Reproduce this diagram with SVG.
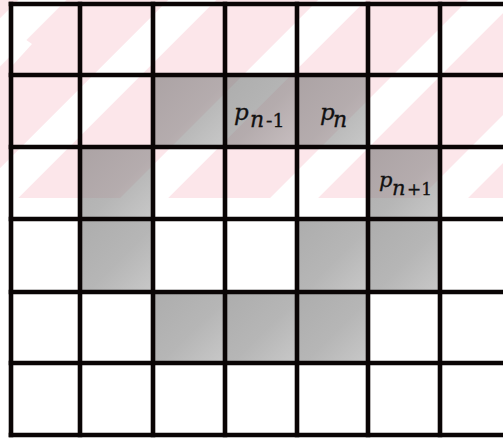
<svg xmlns="http://www.w3.org/2000/svg" width="503" height="439" viewBox="0 0 503 439">
<style>
.grid line{stroke:#0a0505;stroke-width:4.6;stroke-linecap:square}
.cell{fill:url(#shade);opacity:0.6}
.lbl{font-family:"DejaVu Serif","Liberation Serif",serif;fill:#111;stroke:#111;stroke-width:0.3}
.it{font-style:italic}
</style>
<defs>
<linearGradient id="shade" x1="0" y1="0" x2="1" y2="1">
<stop offset="0" stop-color="#767676"/>
<stop offset="0.55" stop-color="#858585"/>
<stop offset="1" stop-color="#a4a4a4"/>
</linearGradient>
<pattern id="stripes" patternUnits="userSpaceOnUse" width="106" height="106" patternTransform="rotate(45)">
<rect x="13" y="0" width="34" height="106" fill="#ffffff"/>
</pattern>
</defs>
<rect width="503" height="439" fill="#ffffff"/>
<g id="watermark">
<rect x="0" y="0" width="503" height="198" fill="#fce6ea"/>
<rect x="0" y="0" width="503" height="198" fill="url(#stripes)"/>
<polygon points="12,30 32,44 12,66" fill="#ffffff"/>
</g>
<g id="cells">
<g id="cell-r1c2"><rect class="cell" x="153" y="75" width="72" height="72"/></g>
<g id="cell-pn-1"><rect class="cell" x="225" y="75" width="72" height="72"/>
<text class="lbl" y="120"><tspan class="it" x="234" font-size="23">p</tspan><tspan class="it" x="250" y="126.5" font-size="22">n</tspan><tspan x="266" y="126.5" font-size="19">-1</tspan></text></g>
<g id="cell-pn"><rect class="cell" x="297" y="75" width="71" height="72"/>
<text class="lbl" y="120"><tspan class="it" x="320" font-size="23">p</tspan><tspan class="it" x="333" y="126.5" font-size="22">n</tspan></text></g>
<g id="cell-r2c1"><rect class="cell" x="80" y="147" width="73" height="72"/></g>
<g id="cell-pn+1"><rect class="cell" x="368" y="147" width="72" height="72"/>
<text class="lbl" y="187"><tspan class="it" x="379" font-size="21">p</tspan><tspan class="it" x="392" y="194.5" font-size="21">n</tspan><tspan x="407" y="194.5" font-size="17">+1</tspan></text></g>
<g id="cell-r3c1"><rect class="cell" x="80" y="219" width="73" height="73"/></g>
<g id="cell-r3c4"><rect class="cell" x="297" y="219" width="71" height="73"/></g>
<g id="cell-r3c5"><rect class="cell" x="368" y="219" width="72" height="73"/></g>
<g id="cell-r4c2"><rect class="cell" x="153" y="292" width="72" height="71"/></g>
<g id="cell-r4c3"><rect class="cell" x="225" y="292" width="72" height="71"/></g>
<g id="cell-r4c4"><rect class="cell" x="297" y="292" width="71" height="71"/></g>
</g>
<g id="grid" class="grid">
<line x1="11" y1="4" x2="11" y2="435"/>
<line x1="80" y1="4" x2="80" y2="435"/>
<line x1="153" y1="4" x2="153" y2="435"/>
<line x1="225" y1="4" x2="225" y2="435"/>
<line x1="297" y1="4" x2="297" y2="435"/>
<line x1="368" y1="4" x2="368" y2="435"/>
<line x1="440" y1="4" x2="440" y2="435"/>
<line x1="11" y1="4" x2="503" y2="4"/>
<line x1="11" y1="75" x2="503" y2="75"/>
<line x1="11" y1="147" x2="503" y2="147"/>
<line x1="11" y1="219" x2="503" y2="219"/>
<line x1="11" y1="292" x2="503" y2="292"/>
<line x1="11" y1="363" x2="503" y2="363"/>
<line x1="11" y1="435" x2="503" y2="435"/>
</g>
</svg>
